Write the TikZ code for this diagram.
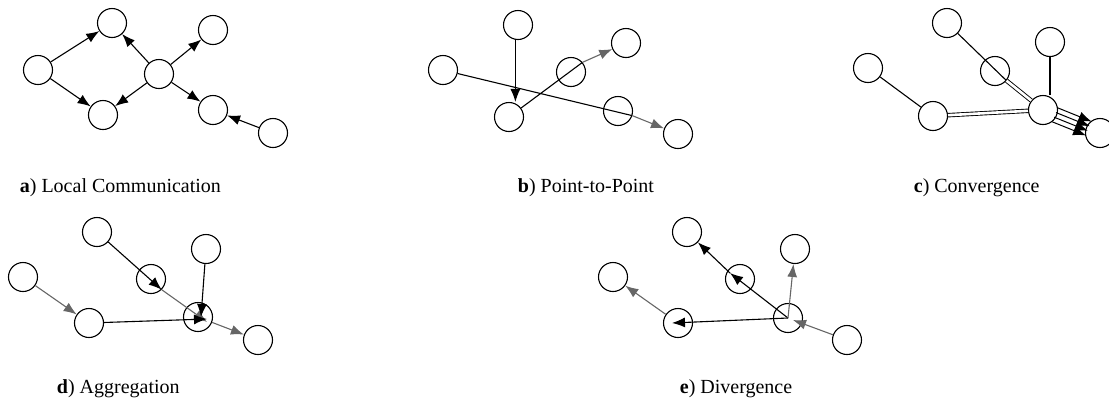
\documentclass[tikz,border=0pt]{standalone}
\usepackage{fontspec}
\setmainfont{Liberation Serif}
\usetikzlibrary{calc,arrows.meta}

\begin{document}
\begin{tikzpicture}[x=1pt, y=-1pt, >={Latex[length=13pt,width=10pt]}, line width=1.1pt,
        nd/.style={circle, draw, line width=1.1pt, minimum size=29pt, inner sep=0pt},
        lab/.style={anchor=base west, font=\fontsize{20}{24}\selectfont},
        gr/.style={black!60},
        dbl/.style={double, double distance=2.6pt, line width=0.9pt}]
        \useasboundingbox (0,0) rectangle (1109,408);

        % a) Local communication
        \node[nd] (a1) at (38,70) {};
        \node[nd] (a2) at (112,23) {};
        \node[nd] (a3) at (103,115) {};
        \node[nd] (a4) at (159,74) {};
        \node[nd] (a5) at (213,30) {};
        \node[nd] (a6) at (213,110) {};
        \node[nd] (a7) at (273,133) {};
        \draw[->] (a1) -- (a2);
        \draw[->] (a1) -- (a3);
        \draw[->] (a4) -- (a2);
        \draw[->] (a4) -- (a3);
        \draw[->] (a4) -- (a5);
        \draw[->] (a4) -- (a6);
        \draw[->] (a7) -- (a6);
        \node[lab] (la) at (16,192) {\textbf{a}) Local Communication};

        % b) Point-to-point
        \node[nd] (b1) at (518,25) {};
        \node[nd] (b2) at (443,70) {};
        \node[nd] (b3) at (509,117) {};
        \node[nd] (b4) at (571,72) {};
        \node[nd] (b5) at (626,43) {};
        \node[nd] (b6) at (618,111) {};
        \node[nd] (b7) at (678,134) {};
        \draw[->] (b1.-100) -- (b1.-100 |- b3.north);
        \draw (b3) -- (b4.40);
        \draw[->, gr] (b4.40) -- (b5);
        \draw (b2) -- (b6.-18);
        \draw[->, gr] (b6.-18) -- (b7);
        \node[lab] (lb) at (514,192) {\textbf{b}) Point-to-Point};

        % c) Convergence
        \node[nd] (c1) at (947,23) {};
        \node[nd] (c2) at (868,68) {};
        \node[nd] (c3) at (995,71) {};
        \node[nd] (c4) at (1050,42) {};
        \node[nd] (c5) at (933,116) {};
        \node[nd] (c6) at (1043,110) {};
        \node[nd] (c7) at (1100,133) {};
        \draw (c2) -- (c5);
        \draw[dbl] (c5) -- (c6);
        \draw (c1) -- (c3.-40);
        \draw[dbl] (c3.-40) -- (c6);
        \draw (c4) -- (c4 |- c6.north);
        \foreach \o in {-7.5,-2.5,2.5,7.5}
            \draw[->, line width=1pt, shorten <=13pt, shorten >=12pt] ($(c6)!\o pt!90:(c7)$) -- ($(c7)!\o pt!-90:(c6)$);
        \node[lab] (lc) at (910,192) {\textbf{c}) Convergence};

        % d) Aggregation
        \node[nd] (d1) at (97,232) {};
        \node[nd] (d2) at (23,277) {};
        \node[nd] (d3) at (151,279) {};
        \node[nd] (d4) at (206,249) {};
        \node[nd] (d5) at (89,323) {};
        \node[nd] (d6) at (198,317) {};
        \node[nd] (d7) at (258,340) {};
        \draw[->, gr] (d2) -- (d5);
        \draw[->] (d1) -- (d3.-45);
        \draw[->, gr] (d3.-45) -- ($(d6)+(9,5)$);
        \draw[->] (d5) -- ($(d6)+(9,2)$);
        \draw[->] (d4) -- ($(d6)+(3,0)$);
        \draw[->, gr] (d6) -- (d7);
        \node[lab] (ld) at (53,393) {\textbf{d}) Aggregation};

        % e) Divergence
        \node[nd] (e1) at (687,232) {};
        \node[nd] (e2) at (613,277) {};
        \node[nd] (e3) at (740,279) {};
        \node[nd] (e4) at (795,249) {};
        \node[nd] (e5) at (678,323) {};
        \node[nd] (e6) at (788,318) {};
        \node[nd] (e7) at (847,340) {};
        \draw[->, gr] (e7) -- ($(e6)+(5,2)$);
        \draw[->] (e6.center) -- ($(e5)+(-6,0)$);
        \draw[->, gr] (e5) -- (e2);
        \draw[->] (e6.center) -- ($(e3)+(-10,-6)$);
        \draw[->] ($(e3)+(-10,-6)$) -- (e1);
        \draw[->, gr] (e6.center) -- (e4);
        \node[lab] (le) at (676,393) {\textbf{e}) Divergence};
\end{tikzpicture}
\end{document}
